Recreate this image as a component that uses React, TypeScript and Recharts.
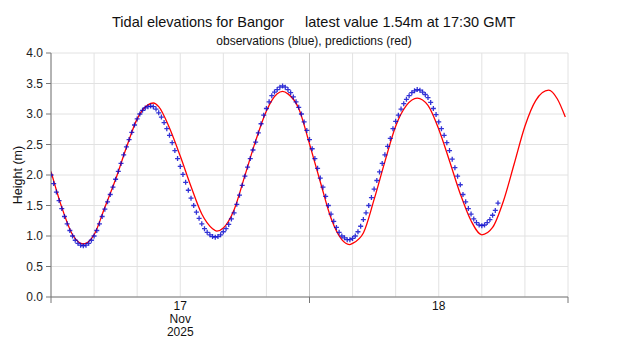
import React from 'react';
import { ComposedChart, Line, Scatter, XAxis, YAxis, CartesianGrid, ReferenceLine } from 'recharts';

// Hours since 00:00 GMT, 17 Nov 2025
const predHours = [0, 1, 2, 3, 4, 5, 6, 7, 8, 9, 9.5, 10, 11, 12, 13, 14, 15, 15.4, 16, 17, 18, 19, 20, 21, 21.5, 22, 23, 24, 25, 26, 27, 27.7, 28, 29, 30, 31, 32, 33, 34, 35, 36, 37, 38, 39, 40, 41, 42, 43, 44, 45, 46.2, 47, 47.75];
const predHeights = [2.06, 1.47, 1.02, 0.87, 1.02, 1.47, 1.93, 2.45, 2.92, 3.15, 3.18, 3.12, 2.77, 2.31, 1.81, 1.36, 1.12, 1.08, 1.13, 1.43, 1.99, 2.56, 3.05, 3.33, 3.37, 3.33, 3.09, 2.51, 1.89, 1.29, 0.94, 0.86, 0.88, 1.05, 1.6, 2.22, 2.8, 3.14, 3.26, 3.14, 2.75, 2.23, 1.69, 1.25, 1.02, 1.14, 1.57, 2.18, 2.8, 3.22, 3.39, 3.25, 2.95];

// Observations every 15 minutes from 00:00 GMT 17 Nov to 17:30 GMT 18 Nov
const obsStartHour = 0;
const obsStepHours = 0.25;
const obsHeights = [
  2.0, 1.86, 1.72, 1.58, 1.45, 1.32, 1.2, 1.09, 1.0, 0.93, 0.88, 0.85, 0.84,
  0.85, 0.88, 0.93, 1.0, 1.09, 1.2, 1.32, 1.44, 1.56, 1.68, 1.8, 1.93, 2.06, 2.19, 2.33, 2.46, 2.58, 2.7, 2.82, 2.92, 3.0, 3.06, 3.1, 3.12, 3.13, 3.12,
  3.08, 3.02, 2.95, 2.86, 2.76, 2.65, 2.53, 2.4, 2.27, 2.14, 2.01, 1.88, 1.75, 1.62, 1.5, 1.39, 1.29, 1.2, 1.12, 1.06, 1.02, 0.99, 0.98, 0.99, 1.02, 1.07,
  1.12, 1.19, 1.28, 1.38, 1.52, 1.67, 1.83, 1.98, 2.13, 2.27, 2.41, 2.54, 2.69, 2.84, 2.98, 3.09, 3.2, 3.3, 3.36, 3.4, 3.44, 3.46,
  3.44, 3.4, 3.35, 3.28, 3.2, 3.11, 3.0, 2.87, 2.73, 2.58, 2.43, 2.27, 2.11, 1.95, 1.8, 1.65, 1.5, 1.36, 1.24, 1.14, 1.06, 1.0, 0.97, 0.94, 0.94,
  0.96, 1.0, 1.07, 1.16, 1.27, 1.38, 1.5, 1.63, 1.77, 1.91, 2.05, 2.19, 2.33, 2.47, 2.6,
  2.76, 2.88, 2.98, 3.08, 3.17, 3.24, 3.3, 3.35, 3.38, 3.4,
  3.39, 3.36, 3.32, 3.27, 3.19, 3.09, 2.99, 2.87, 2.76, 2.65, 2.53, 2.4, 2.26, 2.12, 1.98, 1.84, 1.68, 1.56, 1.45, 1.36, 1.28, 1.22, 1.18, 1.17, 1.18, 1.22, 1.27, 1.34, 1.42, 1.54
];

const yTicks = [0, 0.5, 1, 1.5, 2, 2.5, 3, 3.5, 4];
const xGridHours = [0, 4, 8, 12, 16, 20, 24, 28, 32, 36, 40, 44, 48];
const dayBoundaryHours = [0, 24, 48];
const dayLabelHours = [12, 36];
const dayLabelLines = [['17', 'Nov', '2025'], ['18']];

const titleLeft = 'Tidal elevations for Bangor';
const titleRight = 'latest value 1.54m at 17:30 GMT';
const subtitle = 'observations (blue), predictions (red)';
const yLabel = 'Height (m)';

const FONT = '"Liberation Sans", Arial, sans-serif';

const predData = predHours.map((h, i) => ({ h, pred: predHeights[i] }));
const obsData = obsHeights.map((v, i) => ({ h: obsStartHour + i * obsStepHours, obs: v }));

const XTick = (props: any) => {
  const { x, y, payload } = props;
  const v = payload.value;
  const li = dayLabelHours.indexOf(v);
  return (
    <g>
      {dayBoundaryHours.includes(v) && (
        <line x1={x} x2={x} y1={y} y2={y + 6} stroke="#777" strokeWidth={1} />
      )}
      {li >= 0 && (
        <text x={x} y={y} textAnchor="middle" fontSize={12} fill="#111" fontFamily={FONT}>
          {dayLabelLines[li].map((l, i) => (
            <tspan key={i} x={x} dy={i === 0 ? 12.5 : 13}>{l}</tspan>
          ))}
        </text>
      )}
    </g>
  );
};

const Plus = (props: any) => {
  const { cx, cy } = props;
  if (cx == null || cy == null) return null;
  return (
    <path
      d={`M${cx - 2.5},${cy}H${cx + 2.5}M${cx},${cy - 2.5}V${cy + 2.5}`}
      stroke="#0000cc"
      strokeOpacity={0.8}
      strokeWidth={1.3}
      fill="none"
    />
  );
};

export default function App() {
  return (
    <div style={{ position: 'absolute', left: 0, top: 0, width: 620, height: 350, background: '#fff' }}>
      <ComposedChart
        width={620}
        height={350}
        margin={{ top: 53, right: 52, bottom: 8, left: 0 }}
        style={{ fontFamily: FONT }}
      >
        <CartesianGrid stroke="#e2e2e2" strokeWidth={1} />
        <ReferenceLine x={24} stroke="#c4c4c4" strokeWidth={1} ifOverflow="extendDomain" />
        <XAxis
          dataKey="h"
          type="number"
          domain={[0, 48]}
          ticks={xGridHours}
          interval={0}
          height={45}
          tickSize={0}
          tickMargin={0}
          tick={<XTick />}
          axisLine={{ stroke: '#777' }}
          tickLine={false}
          allowDataOverflow
        />
        <YAxis
          type="number"
          domain={[0, 4]}
          ticks={yTicks}
          interval={0}
          width={51}
          tickFormatter={(v: number) => v.toFixed(1)}
          tick={{ fontSize: 12, fill: '#222', fontFamily: FONT }}
          axisLine={{ stroke: '#777' }}
          tickLine={{ stroke: '#777' }}
          tickSize={5}
          tickMargin={3}
        />
        <Line
          data={predData}
          dataKey="pred"
          type="monotone"
          stroke="#ff0000"
          strokeWidth={1.3}
          dot={false}
          isAnimationActive={false}
        />
        <Scatter
          data={obsData}
          dataKey="obs"
          shape={<Plus />}
          isAnimationActive={false}
        />
      </ComposedChart>
      <svg
        width={620}
        height={350}
        style={{ position: 'absolute', left: 0, top: 0, pointerEvents: 'none' }}
      >
        <text x={284} y={27} textAnchor="end" fontSize={14.5} fill="#111" fontFamily={FONT}>{titleLeft}</text>
        <text x={305} y={27} textAnchor="start" fontSize={14.5} fill="#111" fontFamily={FONT}>{titleRight}</text>
        <text x={314} y={45} textAnchor="middle" fontSize={12} fill="#111" fontFamily={FONT}>{subtitle}</text>
        <text
          x={0}
          y={0}
          transform="translate(22,175) rotate(-90)"
          textAnchor="middle"
          fontSize={12.5}
          fill="#111"
          fontFamily={FONT}
        >
          {yLabel}
        </text>
      </svg>
    </div>
  );
}
